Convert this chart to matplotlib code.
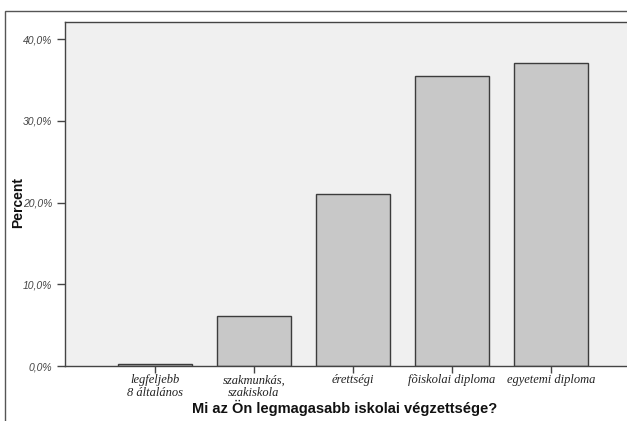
import matplotlib.pyplot as plt
from matplotlib.patches import Rectangle
import numpy as np

categories = ["legfeljebb\n8 általános", "szakmunkás,\nszakiskola", "érettségi",
              "fõiskolai diploma", "egyetemi diploma"]
percent = [0.2, 6.1, 21.0, 35.5, 37.1]
yticks = [0, 10, 20, 30, 40]
ytick_labels = ["0,0%", "10,0%", "20,0%", "30,0%", "40,0%"]

fig = plt.figure(figsize=(6.27, 4.21), dpi=100)
fig.patch.set_facecolor("white")

# outer frame, cropped on right and bottom like the reference
fig.patches.append(Rectangle((5 / 627, -0.1), 1.2, (421 - 11) / 421 + 0.1,
                             transform=fig.transFigure, fill=False,
                             edgecolor="#555555", linewidth=1.0))

ax = fig.add_axes([65 / 627, 55 / 421, 576 / 627, 344 / 421])
ax.set_facecolor("#f0f0f0")

x = np.arange(len(categories))
ax.bar(x, percent, width=0.75, color="#c8c8c8", edgecolor="#3c3c3c", linewidth=1.0, zorder=2)

ax.set_xlim(-0.91, 4.91)
ax.set_ylim(0, 42.1)

ax.set_yticks(yticks)
ax.set_yticklabels(ytick_labels, fontsize=7.5, fontstyle="italic",
                   family="Liberation Sans", color="#444444")
ax.set_xticks(x)
ax.set_xticklabels(categories, fontsize=9, fontstyle="italic",
                   family="Liberation Serif", color="#222222", linespacing=1.05)

ax.tick_params(axis="y", direction="out", length=6, width=1, color="#444444", pad=3)
ax.tick_params(axis="x", direction="out", length=5, width=1, color="#444444", pad=1)

for s in ax.spines.values():
    s.set_color("#444444")
    s.set_linewidth(1.0)

fig.text(18 / 627, 1 - 202 / 421, "Percent", rotation=90, ha="center", va="center",
         fontsize=10, fontweight="bold", family="Liberation Sans", color="#111111")
fig.text(345 / 627, 1 - 408 / 421, "Mi az Ön legmagasabb iskolai végzettsége?",
         ha="center", va="center", fontsize=10.5, fontweight="bold",
         family="Liberation Sans", color="#111111")

fig.savefig("out.png", dpi=100)
